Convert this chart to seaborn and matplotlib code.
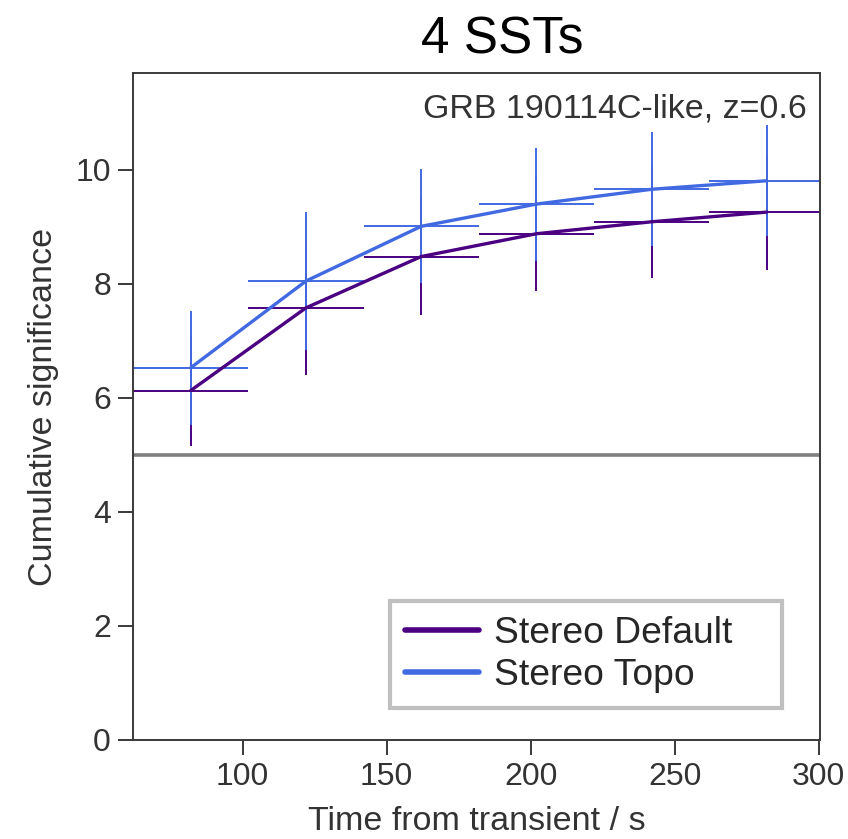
import matplotlib
matplotlib.use("Agg")
import matplotlib.pyplot as plt
import seaborn as sns
import pandas as pd
import numpy as np
from matplotlib.lines import Line2D

# ---- data ----
time_s = [82, 122, 162, 202, 242, 282]
bin_halfwidth = [20, 20, 20, 20, 20, 20]
default_sig = [6.13, 7.58, 8.48, 8.88, 9.09, 9.26]
default_err = [0.98, 1.18, 1.02, 1.01, 0.98, 1.01]
topo_sig = [6.53, 8.05, 9.01, 9.40, 9.66, 9.81]
topo_err = [1.00, 1.21, 1.00, 0.99, 1.00, 0.97]
series_names = ["Stereo Default", "Stereo Topo"]
series_colors = ["#4B0082", "#4169E1"]
threshold = 5.0

sns.set_style("ticks")
plt.rcParams['font.family'] = ['Liberation Sans', 'DejaVu Sans']

df = pd.DataFrame({
    "time": time_s * 2,
    "sig": default_sig + topo_sig,
    "err": default_err + topo_err,
    "xerr": bin_halfwidth * 2,
    "series": [series_names[0]] * len(time_s) + [series_names[1]] * len(time_s),
})

fig = plt.figure(figsize=(8.48, 8.39), dpi=100)
ax = fig.add_axes([0.157, 0.118, 0.81, 0.795])

ax.axhline(threshold, color="#808080", lw=2.6, zorder=1)

palette = dict(zip(series_names, series_colors))
for name in series_names:
    sub = df[df.series == name]
    ax.errorbar(sub["time"], sub["sig"], yerr=sub["err"], xerr=sub["xerr"],
                fmt="none", ecolor=palette[name], elinewidth=1.4, capsize=0, zorder=2)

sns.lineplot(data=df, x="time", y="sig", hue="series", palette=palette,
             lw=2.4, ax=ax, legend=False, zorder=3)

ax.set_xlim(62, 300.5)
ax.set_ylim(0, 11.7)
ax.set_xticks([100, 150, 200, 250, 300])
ax.set_yticks([0, 2, 4, 6, 8, 10])

for s in ax.spines.values():
    s.set_color("#3a3a3a")
    s.set_linewidth(1.4)
ax.tick_params(direction="out", length=11, width=1.4, color="#3a3a3a",
               labelsize=23, labelcolor="#333333", pad=5)

ax.set_xlabel("Time from transient / s", fontsize=24.5, color="#333333", labelpad=10)
ax.set_ylabel("Cumulative significance", fontsize=24.5, color="#333333", labelpad=12)
fig.text(502 / 848, 1 - 15 / 839, "4 SSTs", fontsize=37, ha="center", va="top",
         color="black")

ax.text(0.98, 0.97, "GRB 190114C-like, z=0.6", transform=ax.transAxes,
        ha="right", va="top", fontsize=24.5, color="#333333")

handles = [Line2D([], [], color=c, lw=4) for c in series_colors]
leg = ax.legend(handles, series_names, loc="lower left",
                bbox_to_anchor=(0.374, 0.048, 0.571, 0.16), mode="expand",
                borderaxespad=0,
                fontsize=26.8, frameon=True, fancybox=False, framealpha=1,
                handlelength=2.0, handletextpad=0.4, labelspacing=0.2,
                borderpad=0.4)
leg.get_frame().set_edgecolor("#c0c0c0")
leg.get_frame().set_linewidth(3)

fig.savefig("out.png", dpi=100)
